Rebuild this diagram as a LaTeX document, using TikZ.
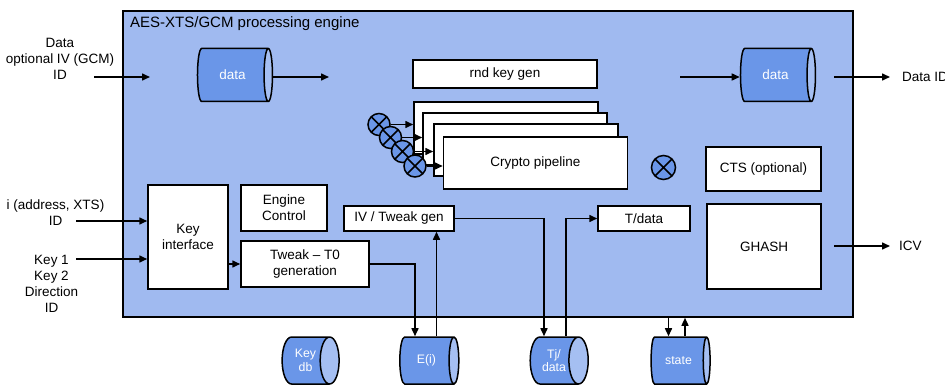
\documentclass[tikz,border=0pt]{standalone}
\usepackage{fontspec}
\setmainfont{Liberation Sans}
\usetikzlibrary{shapes.geometric,arrows.meta,calc}
\definecolor{engblue}{RGB}{160,186,240}
\definecolor{cylblue}{RGB}{106,150,232}
\definecolor{cylend}{RGB}{165,191,242}
\begin{document}
\begin{tikzpicture}[x=1pt,y=-1pt,
  font=\fontsize{13.5}{16}\selectfont,
  blk/.style={draw, fill=white, line width=1.5pt, align=center, inner sep=0pt},
  cyl/.style={cylinder, draw, line width=1.5pt, shape aspect=0.85, cylinder uses custom fill, cylinder body fill=cylblue, cylinder end fill=cylend, text=white, align=center, inner sep=0pt},
  xor/.style={circle, draw, line width=1.5pt, fill=cylblue, inner sep=0pt, minimum size=22pt,
    path picture={\draw[line width=1.5pt] (path picture bounding box.north west) -- (path picture bounding box.south east) (path picture bounding box.north east) -- (path picture bounding box.south west);}},
  arr/.style={-{Triangle[length=8pt,width=7pt]}, line width=1.5pt},
  lbl/.style={align=center, inner sep=0pt}
]
\useasboundingbox (0,0) rectangle (945,385);

% engine
\node[draw, fill=engblue, line width=1.8pt, minimum width=730pt, minimum height=306pt, inner sep=0pt, anchor=north west] (eng) at (122,10) {};
\node[anchor=west, inner sep=0pt, font=\fontsize{15}{18}\selectfont] (title) at (130,24) {AES-XTS/GCM processing engine};

% blocks
\node[blk, minimum width=184pt, minimum height=28pt] (rkg) at (505,74) {rnd key gen};
\node[blk, minimum width=184pt, minimum height=52pt] (r1) at (506,128) {};
\node[blk, minimum width=184pt, minimum height=52pt] (r2) at (515,139) {};
\node[blk, minimum width=184pt, minimum height=52pt] (r3) at (526,150) {};
\node[blk, minimum width=184pt, minimum height=52pt] (r4) at (535.5,163) {Crypto pipeline};
\node[blk, minimum width=115pt, minimum height=44pt] (cts) at (763.5,169) {CTS (optional)};
\node[blk, minimum width=114pt, minimum height=85pt] (gh) at (764,246.5) {GHASH};
\node[blk, minimum width=92pt, minimum height=25pt] (td) at (644,218.5) {T/data};
\node[blk, minimum width=80pt, minimum height=104pt] (ki) at (188,237) {Key\\interface};
\node[blk, minimum width=86pt, minimum height=46pt] (ec) at (284,208) {Engine\\Control};
\node[blk, minimum width=128pt, minimum height=46pt] (tw) at (305,264) {Tweak – T0\\generation};
\node[blk, minimum width=110pt, minimum height=25pt] (iv) at (399,218.5) {IV / Tweak gen};

% cylinders
\node[cyl, minimum height=75pt, minimum width=53pt] (d1) at (232.5,75) {data};
\node[cyl, minimum height=75pt, minimum width=53pt] (d2) at (775.5,75) {data};
\node[cyl, minimum height=57pt, minimum width=47pt, font=\fontsize{12.3}{13.7}\selectfont] (kdb) at (305.5,360.5) {Key\\db};
\node[cyl, minimum height=59pt, minimum width=47pt, font=\fontsize{12.3}{13.7}\selectfont] (ei) at (426.5,360.5) {E(i)};
\node[cyl, minimum height=58pt, minimum width=47pt, font=\fontsize{12.3}{13.7}\selectfont] (tj) at (554,360.5) {Tj/\\data};
\node[cyl, minimum height=59pt, minimum width=47pt, font=\fontsize{12.3}{13.7}\selectfont] (st) at (678.5,360.5) {state};

% xor circles
\node[xor] (x1) at (379,124.5) {};
\node[xor] (x2) at (390.5,137.5) {};
\node[xor] (x3) at (402.5,151.5) {};
\node[xor] (x4) at (415,166) {};
\node[xor, minimum size=24pt] (x5) at (663.5,167.5) {};
\draw[arr] (x1.east) -- (x1.east -| r1.west);
\draw[arr] (x2.east) -- (x2.east -| r2.west);
\draw[arr] (x3.east) -- (x3.east -| r3.west);
\draw[arr] (x4.east) -- (x4.east -| r4.west);

% external labels
\node[lbl] (lin1) at (60,59) {Data\\optional IV (GCM)\\ID};
\node[lbl] (lin2) at (55.5,212.5) {i (address, XTS)\\ID};
\node[lbl] (lin3) at (51.5,283.5) {Key 1\\Key 2\\Direction\\ID};
\node[lbl, anchor=west] (dataid) at (902,77) {Data ID};
\node[lbl, anchor=west] (icv) at (899,246) {ICV};

% top data path
\coordinate (in1) at (94,77);
\coordinate (in1e) at (150,77);
\draw[arr] (in1) -- (in1e);
\coordinate (d1o) at (329,77);
\draw[arr] (d1.east |- d1o) -- (d1o);
\coordinate (d2i) at (680,77);
\draw[arr] (d2i) -- (d2i -| d2.west);
\coordinate (d2o) at (834,77);
\draw[arr] (d2o) -- ([xshift=-12pt]dataid.west);
\coordinate (gho) at (834,246);
\draw[arr] (gho) -- ([xshift=-9pt]icv.west);

% key interface
\coordinate (in2) at (76,221);
\draw[arr] (in2) -- (in2 -| ki.west);
\coordinate (in3) at (76,259);
\draw[arr] (in3) -- (in3 -| ki.west);
\draw[arr] (ki.east |- tw.west) -- (tw.west);

% bottom store links
\coordinate (eidn) at ($(ei.north)+(-11.5,0)$);
\draw[arr] (tw.east) -| (eidn);
\coordinate (eiup) at ($(ei.north)+(10,0)$);
\draw[arr] (eiup) -- (eiup |- iv.south);
\coordinate (tjdn) at ($(tj.north)+(-10,0)$);
\draw[arr] (iv.east) -| (tjdn);
\coordinate (tjup) at ($(tj.north)+(12,0)$);
\draw[arr] (tjup) |- (td.west);
\coordinate (stdn) at ($(st.north)+(-10,0)$);
\draw[arr] (stdn |- eng.south) -- (stdn);
\coordinate (stup) at ($(st.north)+(6.5,0)$);
\draw[arr] (stup) -- (stup |- eng.south);
\end{tikzpicture}
\end{document}
